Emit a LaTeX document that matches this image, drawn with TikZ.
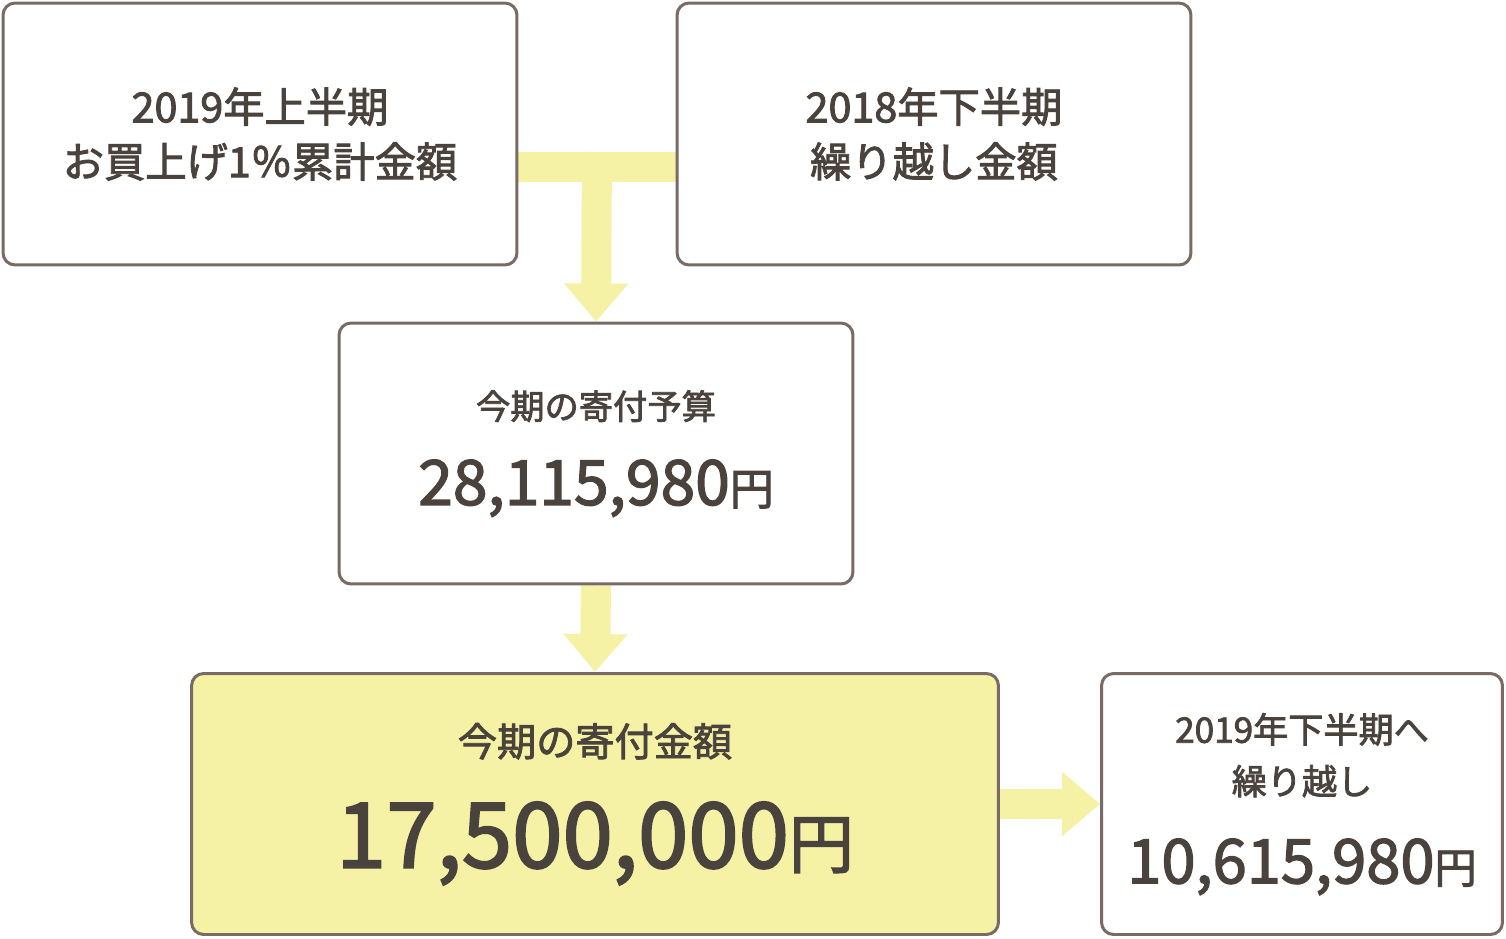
\documentclass[tikz,border=0pt]{standalone}
\usepackage{fontspec}
\setmainfont{Noto Sans CJK JP}[AutoFakeBold=2.2]
\usetikzlibrary{arrows.meta,calc,backgrounds}
\definecolor{borda}{HTML}{776B63}
\definecolor{amarelo}{HTML}{F5F1A5}
\definecolor{texto}{HTML}{4A423C}
\tikzset{
	caixa/.style={draw=borda, line width=0.06cm, rounded corners=0.24cm, fill=white, text=texto, align=center, inner sep=0pt},
	seta/.style={draw=amarelo, line width=0.6cm, -{Triangle[width=1.24cm,length=0.76cm]}}
}
\begin{document}
\begin{tikzpicture}[x=0.02cm,y=-0.02cm] %Início do desenho, 1 unidade = 1 pixel
	\useasboundingbox (0,0) rectangle (1506,938);
		%Caixas
	\node[caixa, minimum width=10.28cm, minimum height=5.24cm, font={\fontsize{23.5}{31.2}\selectfont\bfseries}] (vendas) at (260,134)
		{2019年上半期\\お買上げ1％累計金額};
	\node[caixa, minimum width=10.28cm, minimum height=5.24cm, font={\fontsize{23.5}{31.2}\selectfont\bfseries}] (saldo) at (934,134)
		{2018年下半期\\繰り越し金額};
	\node[caixa, minimum width=10.28cm, minimum height=5.22cm, font={\fontsize{19.5}{48.8}\selectfont\bfseries}] (orcamento) at (596,453.5)
		{今期の寄付予算\\
		{\fontsize{35.5}{48.8}\selectfont 28,115,980}{\fontsize{25}{48.8}\selectfont 円}};
	\node[caixa, fill=amarelo, minimum width=16.14cm, minimum height=5.22cm, font={\fontsize{22.3}{63.5}\selectfont\bfseries}] (doacao) at (595,804)
		{今期の寄付金額\\
		{\fontsize{51.6}{63.5}\selectfont 17,500,000}{\fontsize{37}{63.5}\selectfont 円}};
	\node[caixa, minimum width=8.02cm, minimum height=5.22cm, font={\fontsize{20}{29.5}\selectfont\bfseries}] (proximo) at (1302,804)
		{2019年下半期へ\\繰り越し\\[21pt]
		{\fontsize{35}{29.5}\selectfont 10,615,980}{\fontsize{24}{29.5}\selectfont 円}};
		%Setas
	\coordinate (juncao) at ($(vendas.east)!0.5!(saldo.west)+(0,33)$);
	\begin{scope}[on background layer]
	\draw[amarelo, line width=0.6cm] ($(vendas.east)+(0,33)$) -- ($(saldo.west)+(0,33)$);
	\draw[seta] ($(juncao)+(0,-15)$) -- (orcamento.north);
	\draw[seta] (orcamento.south) -- (doacao.north);
	\draw[seta] (doacao.east) -- (proximo.west);
	\end{scope}
\end{tikzpicture}
\end{document}
